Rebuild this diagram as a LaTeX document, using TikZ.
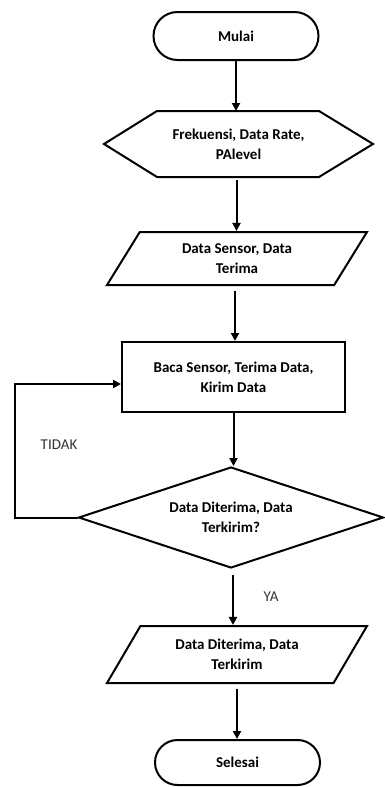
\documentclass[tikz,border=0pt]{standalone}
\usepackage{fontspec}
\setmainfont{Carlito}
\usetikzlibrary{positioning,calc,arrows.meta,shapes.geometric,shapes.misc}

\begin{document}
\begin{tikzpicture}[x=1pt, y=-1pt, line width=2pt,
	box/.style={draw, align=center, font=\fontsize{15}{20}\selectfont\bfseries, inner sep=2pt},
	term/.style={box, rounded rectangle, minimum width=169pt, minimum height=48pt},
	io/.style={box, trapezium, trapezium left angle=46, trapezium right angle=134, trapezium stretches body, minimum width=260pt},
	arr/.style={-{Triangle[length=8pt, width=8pt]}},
	lbl/.style={font=\fontsize{15}{20}\selectfont, text=black!80}]
	\useasboundingbox (0,0) rectangle (384,787);

	\node[term] (mulai) at (236, 36) {Mulai};
	\node[align=center, font=\fontsize{15}{20}\selectfont\bfseries, minimum width=267pt, minimum height=64pt] (param) at (238.5, 144) {Frekuensi, Data Rate,\\PAlevel};
	\draw (param.west) -- ($(param.north west)+(53,0)$) -- ($(param.north east)+(-54,0)$) -- (param.east)
		-- ($(param.south east)+(-54,0)$) -- ($(param.south west)+(53,0)$) -- cycle;
	\node[io, minimum height=53pt] (input) at (237, 258.5) {Data Sensor, Data\\Terima};
	\node[box, minimum width=223pt, minimum height=70pt] (proses) at (233.5, 377) {Baca Sensor, Terima Data,\\Kirim Data};
	\node[box, diamond, aspect=3, minimum width=305pt, minimum height=101pt] (cek) at (231, 517.5) {Data Diterima, Data\\Terkirim?};
	\node[io, minimum height=57pt] (output) at (237, 654.5) {Data Diterima, Data\\Terkirim};
	\node[term, minimum height=45pt] (selesai) at (237.5, 762.5) {Selesai};

	\coordinate (balik) at (15, 517.5);
	\node[lbl] (tidak) at (59, 445) {TIDAK};
	\node[lbl] (ya) at (271, 597) {YA};

	\draw[arr] (mulai.south) -- (mulai.south |- param.north);
	\draw[arr, shorten <=3pt] ([xshift=-2pt]param.south) -- ([xshift=-2pt]param.south |- input.north);
	\draw[arr, shorten <=5pt] ([xshift=-2pt]input.south) -- ([xshift=-2pt]input.south |- proses.north);
	\draw[arr] (proses.south) -- (proses.south |- cek.north);
	\draw[arr, shorten <=6pt] ([xshift=2pt]cek.south) -- ([xshift=2pt]cek.south |- output.north);
	\draw[arr, shorten <=5pt] (output.south) -- (output.south |- selesai.north);
	\draw[arr] (cek.west) -- (balik) |- ([yshift=-7pt]proses.west);
\end{tikzpicture}
\end{document}
